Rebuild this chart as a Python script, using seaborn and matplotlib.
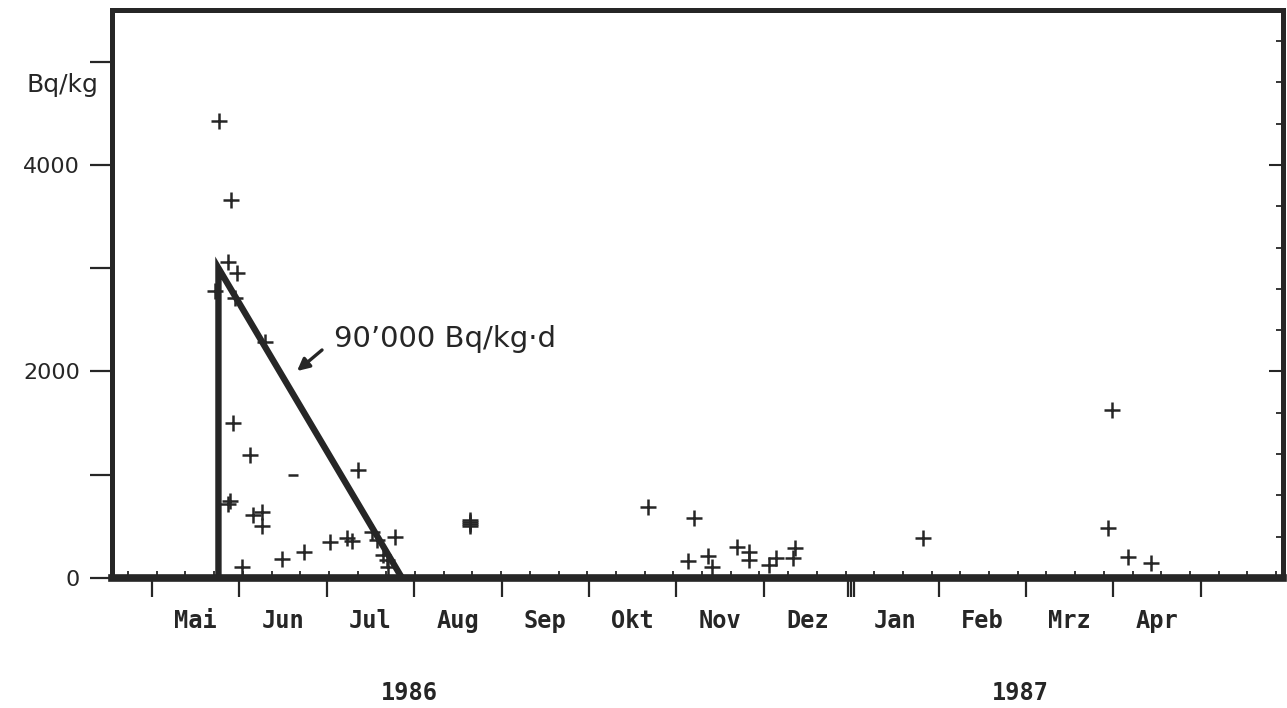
import numpy as np
import pandas as pd
import matplotlib
matplotlib.use("Agg")
import matplotlib.pyplot as plt
import matplotlib.transforms as mtransforms
import seaborn as sns

# ---------------- data ----------------
months = ["Mai", "Jun", "Jul", "Aug", "Sep", "Okt", "Nov", "Dez", "Jan", "Feb", "Mrz", "Apr"]
years = ["1986", "1987"]
year_pos = [2.95, 9.93]

# measurement date in months after 1 May 1986, activity in Bq/kg
meas_month = [0.770, 0.900, 0.873, 0.976, 0.721, 0.950, 1.293, 0.930, 1.121, 2.360,
              0.892, 0.873, 1.159, 1.255, 1.255, 1.026, 1.484, 1.739, 2.037, 2.227,
              2.285, 2.514, 2.571, 2.780, 2.646, 2.690, 2.696,
              3.638, 3.638, 3.638, 3.638,
              5.671, 6.201, 6.136, 6.365, 6.404, 6.690, 6.834, 6.834, 7.063, 7.140,
              7.330, 7.357, 8.820, 10.98, 10.94, 11.17, 11.43]
meas_bq = [4430, 3660, 3060, 2955, 2780, 2710, 2290, 1500, 1190, 1045,
           750, 715, 610, 640, 500, 110, 185, 255, 350, 385,
           360, 450, 370, 395, 225, 175, 105,
           560, 540, 520, 500,
           690, 580, 160, 215, 110, 305, 255, 170, 130, 190,
           190, 290, 385, 1625, 480, 205, 150]

dash_month = [1.61]
dash_bq = [1000]

model_month = [0.76, 0.76, 2.86]
model_bq = [0, 3000, 0]

y_tick_values = [0, 1000, 2000, 3000, 4000, 5000]
y_tick_labels = ["0", "", "2000", "", "4000", ""]
unit_label = "Bq/kg"
annotation = "90\u2019000 Bq/kg\u00b7d"

# ---------------- style ----------------
sns.set_theme(style="white")
plt.rcParams["font.family"] = ["DejaVu Sans"]
INK = "#262626"

fig = plt.figure(figsize=(12.87, 7.08), dpi=100)
ax = fig.add_axes([112 / 1287, 1 - 578 / 708, (1283 - 112) / 1287, (578 - 10) / 708])

df = pd.DataFrame({"month": meas_month, "bq": meas_bq})
sns.scatterplot(data=df, x="month", y="bq", marker="+", s=130, color=INK,
                linewidth=1.8, ax=ax, zorder=3, legend=False)
df_dash = pd.DataFrame({"month": dash_month, "bq": dash_bq})
sns.scatterplot(data=df_dash, x="month", y="bq", marker="_", s=60, color=INK,
                linewidth=1.8, ax=ax, zorder=3, legend=False)

df_model = pd.DataFrame({"month": model_month, "bq": model_bq})
sns.lineplot(data=df_model, x="month", y="bq", sort=False, estimator=None,
             color=INK, linewidth=4.6, ax=ax, zorder=4)
for ln in ax.lines:
    ln.set_solid_joinstyle("miter")

ax.text(2.08, 2314, annotation, fontsize=21, color=INK, ha="left", va="center")
ax.annotate("", xy=(1.659, 2004), xytext=(1.945, 2208),
            arrowprops=dict(arrowstyle="-|>", lw=2.4, color=INK, mutation_scale=18,
                            shrinkA=0, shrinkB=0))

ax.set_xlim(-0.458, 12.94)
ax.set_ylim(0, 5500)
ax.set_xlabel("")
ax.set_ylabel("")

# x ticks
ax.set_xticks(list(range(13)) + [7.966, 8.034])
ax.set_xticklabels([])
ax.set_xticks(np.arange(-0.275, 12.9, 0.3284), minor=True)
ax.tick_params(axis="x", which="major", direction="out", length=14, width=1.6,
               color=INK, bottom=True)
ax.tick_params(axis="x", which="minor", direction="in", length=5, width=1.3,
               color=INK, bottom=True)

# y ticks
ax.set_yticks(y_tick_values)
ax.set_yticklabels(y_tick_labels)
ax.tick_params(axis="y", which="major", direction="out", length=16, width=1.6,
               color=INK, left=True, labelsize=16, labelcolor=INK, pad=7)
ax.text(-0.012, 4774, unit_label, transform=mtransforms.blended_transform_factory(ax.transAxes, ax.transData),
        ha="right", va="center", fontsize=18, color=INK)

# right inner ticks
twin = ax.twinx()
twin.set_ylim(0, 5500)
twin.set_yticks([2000, 4000])
twin.set_yticks(np.arange(400, 5500, 400), minor=True)
twin.tick_params(axis="y", which="major", direction="in", length=10, width=1.5,
                 color=INK, right=True, labelright=False)
twin.tick_params(axis="y", which="minor", direction="in", length=5, width=1.3,
                 color=INK, right=True, labelright=False)
twin.grid(False)
for s in twin.spines.values():
    s.set_visible(False)

for name, s in ax.spines.items():
    s.set_color(INK)
    s.set_linewidth(3.6)
ax.spines["bottom"].set_linewidth(5.5)

trans = mtransforms.blended_transform_factory(ax.transData, ax.transAxes)
for i, m in enumerate(months):
    ax.text(i + 0.5, -0.0757, m, transform=trans, ha="center", va="center",
            fontfamily="DejaVu Sans Mono", fontweight="bold", fontsize=17, color=INK)
for yp, yl in zip(year_pos, years):
    ax.text(yp, -0.2025, yl, transform=trans, ha="center", va="center",
            fontfamily="DejaVu Sans Mono", fontweight="bold", fontsize=17, color=INK)

fig.savefig("out.png", dpi=100, facecolor="white")
